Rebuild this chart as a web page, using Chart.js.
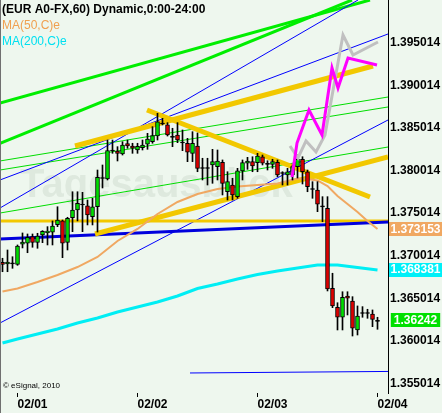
<!DOCTYPE html>
<html>
<head>
<meta charset="utf-8">
<script src="https://cdn.jsdelivr.net/npm/chart.js@4.4.1/dist/chart.umd.min.js"></script>
<style>
html, body { margin: 0; padding: 0; background: #eef7ee; }
#wrap { width: 442px; height: 413px; position: relative; }
</style>
</head>
<body>
<div id="wrap"><canvas id="chart"></canvas></div>
<script>
// hourly bars, hours counted from 02/01 00:00 (first bar is 01/31 21:00)
const firstHour = -3;
const opens = [1.36924, 1.36904, 1.36916, 1.36900, 1.37135, 1.37147, 1.37224, 1.37158, 1.37244, 1.37271,
  1.37276, 1.37365, 1.37409, 1.37158, 1.37447, 1.37538, 1.37608, 1.37585, 1.37459, 1.37576,
  1.37919, 1.37902, 1.38242, 1.38230, 1.38195, 1.38316, 1.38289, 1.38242, 1.38269, 1.38309,
  1.38339, 1.38406, 1.38559, 1.38536, 1.38403, 1.38418, 1.38336, 1.38321, 1.38203, 1.38289,
  1.38037, 1.38025, 1.38066, 1.38046, 1.38098, 1.37752, 1.37831, 1.37694, 1.37996, 1.38086,
  1.38105, 1.38093, 1.38163, 1.38084, 1.38074, 1.38098, 1.37978, 1.37949, 1.37949, 1.38046,
  1.38133, 1.37987, 1.37790, 1.37772, 1.37585, 1.37558, 1.36618, 1.36395, 1.36278, 1.36528,
  1.36469, 1.36129, 1.36334, 1.36322, 1.36317, 1.36230];
const highs = [1.36971, 1.37068, 1.36989, 1.37127, 1.37268, 1.37256, 1.37256, 1.37264, 1.37295, 1.37342,
  1.37409, 1.37576, 1.37420, 1.37452, 1.37752, 1.37752, 1.37745, 1.37655, 1.37675, 1.38007,
  1.38066, 1.38359, 1.38359, 1.38281, 1.38339, 1.38359, 1.38321, 1.38321, 1.38359, 1.38438,
  1.38516, 1.38673, 1.38614, 1.38563, 1.38497, 1.38563, 1.38477, 1.38379, 1.38457, 1.38442,
  1.38145, 1.38145, 1.38250, 1.38242, 1.38125, 1.37987, 1.37910, 1.38027, 1.38125, 1.38156,
  1.38163, 1.38203, 1.38183, 1.38116, 1.38133, 1.38125, 1.37987, 1.38027, 1.38066, 1.38183,
  1.38163, 1.38007, 1.37870, 1.37870, 1.37694, 1.37694, 1.36795, 1.36449, 1.36578, 1.36578,
  1.36520, 1.36411, 1.36403, 1.36372, 1.36364, 1.36278];
const lows = [1.36813, 1.36813, 1.36853, 1.36888, 1.37092, 1.37036, 1.37100, 1.37088, 1.37154, 1.37127,
  1.37127, 1.37342, 1.36978, 1.37068, 1.37283, 1.37409, 1.37283, 1.37362, 1.37362, 1.37279,
  1.37796, 1.37890, 1.38203, 1.38113, 1.38183, 1.38262, 1.38203, 1.38203, 1.38242, 1.38250,
  1.38321, 1.38359, 1.38536, 1.38406, 1.38281, 1.38328, 1.38234, 1.38105, 1.38105, 1.37987,
  1.37890, 1.37831, 1.37851, 1.37890, 1.37714, 1.37655, 1.37655, 1.37675, 1.37890, 1.38015,
  1.37987, 1.37987, 1.38066, 1.38007, 1.38027, 1.37929, 1.37831, 1.37831, 1.37890, 1.37913,
  1.37843, 1.37752, 1.37675, 1.37518, 1.37400, 1.36587, 1.36391, 1.36129, 1.36129, 1.36305,
  1.36058, 1.36070, 1.36278, 1.36266, 1.36168, 1.36137];
const closes = [1.36900, 1.36927, 1.36904, 1.37115, 1.37162, 1.37217, 1.37158, 1.37232, 1.37288, 1.37291,
  1.37350, 1.37420, 1.37147, 1.37440, 1.37538, 1.37616, 1.37596, 1.37479, 1.37576, 1.37922,
  1.37907, 1.38234, 1.38230, 1.38203, 1.38301, 1.38289, 1.38262, 1.38285, 1.38301, 1.38371,
  1.38410, 1.38574, 1.38547, 1.38418, 1.38391, 1.38359, 1.38324, 1.38215, 1.38321, 1.38027,
  1.38025, 1.38037, 1.38105, 1.38113, 1.37851, 1.37870, 1.37714, 1.37996, 1.38093, 1.38113,
  1.38054, 1.38172, 1.38086, 1.38072, 1.38105, 1.37949, 1.37966, 1.37987, 1.38046, 1.38133,
  1.37987, 1.37811, 1.37778, 1.37605, 1.37573, 1.36610, 1.36411, 1.36278, 1.36513, 1.36501,
  1.36149, 1.36293, 1.36322, 1.36334, 1.36254, 1.36242];

const dayTicks = [0, 24, 48, 72];
const dayLabels = ['02/01', '02/02', '02/03', '02/04'];
const priceTicks = [1.355014, 1.360014, 1.365014, 1.370014, 1.375014, 1.380014, 1.385014, 1.390014, 1.395014];

// moving averages
const ma50Hours = [-3, 0, 4, 8, 12, 16, 20, 24, 28, 32, 36, 40, 44, 48, 52, 56, 58, 60, 62, 64, 66, 68, 70, 72];
const ma50Values = [1.36581, 1.36616, 1.36692, 1.36775, 1.36868, 1.36986, 1.37174, 1.37315, 1.37491, 1.37632,
  1.37725, 1.37784, 1.37814, 1.37831, 1.37849, 1.37907, 1.37902, 1.37884, 1.37819, 1.37702, 1.37608, 1.37514, 1.37409, 1.37315];
const ma200Hours = [-3, 0, 4, 8, 12, 16, 20, 24, 28, 32, 36, 40, 44, 48, 52, 56, 60, 64, 68, 72];
const ma200Values = [1.35976, 1.36023, 1.36082, 1.36141, 1.36211, 1.36270, 1.36340, 1.36399, 1.36458, 1.36528,
  1.36616, 1.36669, 1.36728, 1.36780, 1.36822, 1.36857, 1.36892, 1.36892, 1.36863, 1.36833];

// projection paths
const magentaHours = [54.9, 55.9, 58.3, 60.9, 62.9, 64.1, 66.1, 71.9];
const magentaValues = [1.37925, 1.38324, 1.38712, 1.38418, 1.39205, 1.38970, 1.39322, 1.39240];
const greyHours = [54.5, 56.1, 57.7, 59.7, 61.5, 65.1, 67.1, 72.1];
const greyValues = [1.38289, 1.38148, 1.38348, 1.38219, 1.38418, 1.39592, 1.39357, 1.39510];

// trendlines: [[hour, price], [hour, price]]
const thickGreenLines = [
  [[-3.5, 1.38794], [70.5, 1.40003]],
  [[-3.5, 1.38320], [66.9, 1.40003]]
];
const thinGreenLines = [
  [[-3.5, 1.38113], [74.1, 1.38864]],
  [[-3.5, 1.38007], [74.1, 1.38747]],
  [[-3.5, 1.37502], [74.1, 1.38277]]
];
const thinBlueLines = [
  [[-3.5, 1.37890], [74.1, 1.39604]],
  [[-3.5, 1.37561], [68.1, 1.40003]],
  [[-3.5, 1.36211], [74.1, 1.38594]],
  [[34.5, 1.35624], [74.1, 1.35642]]
];
const thickBlueLine = [[-3.5, 1.37197], [74.1, 1.37397]];
const goldLines = [
  [[15.5, 1.37256], [74.1, 1.38160]],
  [[11.5, 1.38289], [71.1, 1.39228]],
  [[25.9, 1.38712], [70.5, 1.37690]]
];
const goldLevel = [[-3.5, 1.37409], [74.1, 1.37409]];

const lastValues = [1.373153, 1.368381, 1.36242];
const lastColors = ['#f0a862', '#00f0f8', '#00e000'];

const AXIS_FONT = { family: 'Liberation Sans', size: 12, weight: 'bold' };

function seg(points, color, width, order) {
  return {
    type: 'line',
    data: points.map(p => ({ x: p[0], y: p[1] })),
    borderColor: color,
    borderWidth: width,
    pointRadius: 0,
    tension: 0,
    fill: false,
    order: order
  };
}

function path(hours, values, color, width, order) {
  return seg(hours.map((h, i) => [h, values[i]]), color, width, order);
}

const datasets = [];
thinGreenLines.forEach(l => datasets.push(seg(l, '#00dd00', 1, 30)));
thickGreenLines.forEach(l => datasets.push(seg(l, '#00ee00', 3, 30)));
thinBlueLines.forEach(l => datasets.push(seg(l, '#0000ff', 1, 29)));
datasets.push(seg(goldLevel, '#f2c800', 3, 28));
datasets.push(seg(thickBlueLine, '#0000dd', 3, 27));
goldLines.forEach(l => datasets.push(seg(l, '#f2c800', 5, 26)));
datasets.push(path(ma200Hours, ma200Values, '#00eef4', 3, 25));
datasets.push(path(ma50Hours, ma50Values, '#f0a862', 2, 25));

datasets.push({
  type: 'bar',
  data: opens.map((o, i) => ({ x: firstHour + i, y: [lows[i], highs[i]] })),
  backgroundColor: '#000',
  borderWidth: 0,
  barThickness: 1,
  grouped: false,
  order: 11
});
datasets.push({
  type: 'bar',
  data: opens.map((o, i) => ({ x: firstHour + i, y: [o, closes[i]] })),
  backgroundColor: opens.map((o, i) => Math.abs(closes[i] - o) < 0.00015 ? '#000' : (closes[i] > o ? '#00dd00' : '#dd0000')),
  borderColor: '#000',
  borderWidth: 1,
  borderSkipped: false,
  barThickness: 4,
  grouped: false,
  order: 10
});

datasets.push(path(greyHours, greyValues, '#c0c0c0', 3, 2));
datasets.push(path(magentaHours, magentaValues, '#ff00ff', 3, 1));

const decor = {
  id: 'decor',
  beforeDraw(chart) {
    const ctx = chart.ctx;
    ctx.save();
    ctx.fillStyle = '#eef7ee';
    ctx.fillRect(0, 0, chart.width, chart.height);
    ctx.restore();
  },
  beforeDatasetsDraw(chart) {
    const ctx = chart.ctx;
    ctx.save();
    ctx.fillStyle = 'rgba(170, 190, 170, 0.24)';
    ctx.font = 'bold 40px "Liberation Sans"';
    ctx.textBaseline = 'alphabetic';
    ctx.fillText('Tagesausblick', 20, 197);
    ctx.restore();
  },
  afterDraw(chart) {
    const ctx = chart.ctx;
    const y = chart.scales.y;
    const area = chart.chartArea;
    ctx.save();
    // left frame
    ctx.fillStyle = '#707070';
    ctx.fillRect(0, 0, 1, chart.height);
    // header texts
    ctx.textBaseline = 'middle';
    ctx.textAlign = 'left';
    ctx.font = 'bold 12px "Liberation Sans"';
    ctx.fillStyle = '#000';
    ctx.fillText('(EUR A0-FX,60) Dynamic,0:00-24:00', 2, 10);
    ctx.font = '12px "Liberation Sans"';
    ctx.fillStyle = '#f0a050';
    ctx.fillText('MA(50,C)e', 2, 26);
    ctx.fillStyle = '#00e0f0';
    ctx.fillText('MA(200,C)e', 2, 42);
    ctx.font = '8px "Liberation Sans"';
    ctx.fillStyle = '#000';
    ctx.fillText('\u00a9 eSignal, 2010', 3, 386);
    // last value boxes
    ctx.font = 'bold 12px "Liberation Sans"';
    const room = chart.width - area.right - 1;
    lastValues.forEach((v, i) => {
      const py = y.getPixelForValue(v);
      const txt = String(v);
      const tw = ctx.measureText(txt).width;
      const w = Math.min(tw + 6, room);
      const bx = area.right + 1 + (room - w) / 2;
      ctx.fillStyle = lastColors[i];
      ctx.fillRect(bx, Math.round(py - 7), w, 14);
      ctx.fillStyle = '#fff';
      ctx.fillText(txt, bx + (w - tw) / 2, py + 0.5);
    });
    ctx.restore();
  }
};

new Chart(document.getElementById('chart'), {
  type: 'bar',
  data: { datasets: datasets },
  plugins: [decor],
  options: {
    responsive: true,
    maintainAspectRatio: false,
    animation: false,
    events: [],
    layout: { padding: 0 },
    plugins: { legend: { display: false }, tooltip: { enabled: false } },
    scales: {
      x: {
        type: 'linear',
        min: -3.5,
        max: 74.1,
        offset: false,
        afterBuildTicks: s => { s.ticks = dayTicks.map(v => ({ value: v })); },
        afterFit: s => { s.height = 20; s.paddingLeft = 0; s.paddingRight = 0; },
        ticks: {
          autoSkip: false,
          maxRotation: 0,
          align: 'start',
          padding: 0,
          color: '#000',
          font: AXIS_FONT,
          callback: (v, i) => dayLabels[i]
        },
        grid: { drawOnChartArea: false, drawTicks: true, tickLength: 4, color: '#000', offset: false },
        border: { display: false }
      },
      y: {
        position: 'right',
        min: 1.35389,
        max: 1.40003,
        afterBuildTicks: s => { s.ticks = priceTicks.map(v => ({ value: v })); },
        afterFit: s => { s.width = 54; s.paddingTop = 0; s.paddingBottom = 0; },
        ticks: { padding: 2, color: '#000', font: AXIS_FONT, callback: v => v.toFixed(6) },
        grid: { display: false, drawTicks: false },
        border: { display: true, color: '#000', width: 1 }
      }
    }
  }
});
</script>
</body>
</html>
